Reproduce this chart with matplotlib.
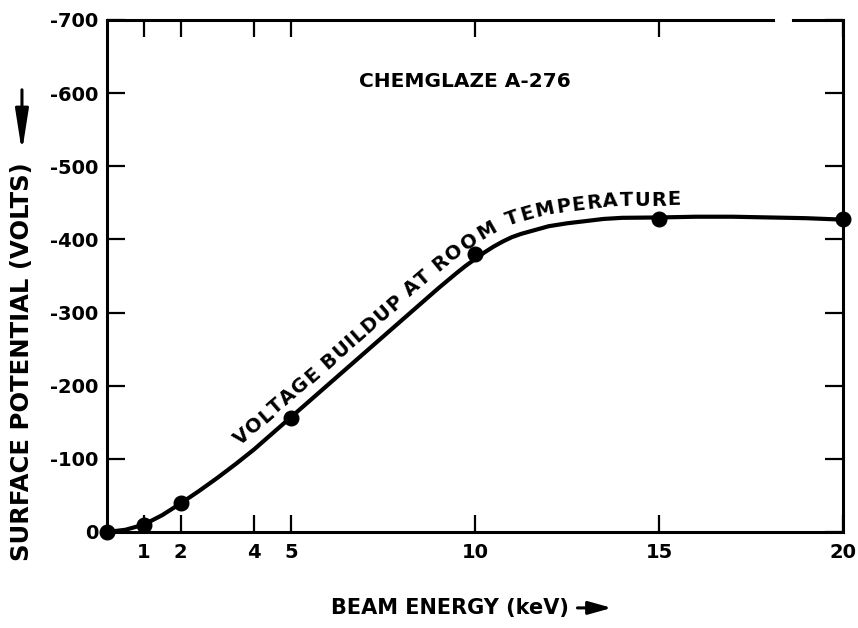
import numpy as np
import matplotlib
matplotlib.use('Agg')
import matplotlib.pyplot as plt
from matplotlib.patches import FancyArrowPatch

FONT = 'DejaVu Sans'

# measured points
energy = [0, 1, 2, 5, 10, 15, 20]
potential = [0, -10, -40, -156, -380, -428, -428]

# hand drawn curve
curve_energy = [0, 0.5, 1, 1.5, 2, 2.5, 3, 3.5, 4, 4.5, 5, 5.5, 6, 6.5, 7,
                7.5, 8, 8.5, 9, 9.5, 9.75, 10, 10.25, 10.5, 10.75, 11, 11.25,
                11.5, 12, 12.5, 13, 13.5, 14, 15, 16, 17, 18, 19, 20]
curve_potential = [0, -3, -10, -23, -39, -56, -74, -93, -113, -135, -157,
                   -179, -201, -223, -245, -267, -289, -311, -333, -354,
                   -364, -373, -382, -390, -397, -403, -407.5, -411, -418,
                   -422, -425, -428, -429.5, -430, -431, -431, -430, -429,
                   -427]

x_tick_pos = [1, 2, 4, 5, 10, 15, 20]
x_tick_labels = ['1', '2', '4', '5', '10', '15', '20']
y_tick_pos = [0, -100, -200, -300, -400, -500, -600, -700]
y_tick_labels = ['0', '-100', '-200', '-300', '-400', '-500', '-600', '-700']

title = 'CHEMGLAZE A-276'
curve_text = 'VOLTAGE BUILDUP AT ROOM TEMPERATURE'


def curved_label(ax, text, xs, ys, x_from, x_to, offset, size):
	renderer = ax.figure.canvas.get_renderer()
	pts = ax.transData.transform(np.column_stack([xs, ys]))
	arc = np.concatenate([[0], np.cumsum(np.hypot(*np.diff(pts, axis=0).T))])
	s_from = np.interp(x_from, xs, arc)
	s_to = np.interp(x_to, xs, arc)

	def width(s):
		t = ax.text(0, 0, s, fontsize=size, fontweight='bold', family=FONT)
		w = t.get_window_extent(renderer).width
		t.remove()
		return w

	base = width('xx')
	widths = [width('x' + ch + 'x') - base for ch in text]
	k = (s_to - s_from) / sum(widths)
	inv = ax.transData.inverted()
	s = s_from
	for ch, w in zip(text, widths):
		mid = s + w * k / 2
		s += w * k
		if ch == ' ':
			continue
		px = np.interp(mid, arc, pts[:, 0])
		py = np.interp(mid, arc, pts[:, 1])
		x0 = np.interp(mid - 14, arc, pts[:, 0])
		y0 = np.interp(mid - 14, arc, pts[:, 1])
		x1 = np.interp(mid + 14, arc, pts[:, 0])
		y1 = np.interp(mid + 14, arc, pts[:, 1])
		ang = np.arctan2(y1 - y0, x1 - x0)
		nx, ny = -np.sin(ang), np.cos(ang)
		x, y = inv.transform((px + nx * offset, py + ny * offset))
		ax.text(x, y, ch, rotation=np.degrees(ang), rotation_mode='anchor',
		        ha='center', va='baseline', fontsize=size, fontweight='bold',
		        family=FONT)


fig = plt.figure(figsize=(8.58, 6.28), dpi=100)
ax = fig.add_axes([0.1247, 0.1529, 0.8578, 0.8153])

ax.plot(curve_energy, curve_potential, color='k', lw=3, clip_on=False,
        solid_capstyle='round', solid_joinstyle='round')
ax.plot(energy, potential, 'o', color='k', ms=10.5, clip_on=False)

ax.set_xlim(0, 20)
ax.set_ylim(0, -700)

ax.set_xticks(x_tick_pos)
ax.set_xticklabels(x_tick_labels)
ax.set_yticks(y_tick_pos)
ax.set_yticklabels(y_tick_labels)
ax.tick_params(axis='x', direction='in', length=12, width=1.6, top=True,
               pad=8, labelsize=14)
ax.tick_params(axis='y', direction='in', length=13, width=1.6, right=True,
               pad=6, labelsize=14)
for lab in ax.get_xticklabels() + ax.get_yticklabels():
	lab.set_fontweight('bold')
	lab.set_family(FONT)

for side in ['left', 'right', 'bottom']:
	ax.spines[side].set_linewidth(2.2)
ax.spines['top'].set_visible(False)
# top border has a small break near the right end
ax.plot([0, 0.905], [1, 1], transform=ax.transAxes, color='k', lw=2.2,
        clip_on=False)
ax.plot([0.932, 1], [1, 1], transform=ax.transAxes, color='k', lw=2.2,
        clip_on=False)

ax.text(9.73, -616, title, ha='center', va='center', fontsize=14.5,
        fontweight='bold', family=FONT)

curved_label(ax, curve_text, curve_energy, curve_potential, 3.8, 15.6, 12, 14)

fig.text(0.0256, 0.424, 'SURFACE POTENTIAL (VOLTS)', rotation=90,
         ha='center', va='center', fontsize=17.5, fontweight='bold',
         family=FONT)
fig.text(0.524, 0.032, 'BEAM ENERGY (keV)', ha='center', va='center',
         fontsize=15, fontweight='bold', family=FONT)

fig.add_artist(FancyArrowPatch(
	(0.0256, 0.857), (0.0256, 0.758), transform=fig.transFigure,
	arrowstyle='-|>,head_length=1.4,head_width=0.22', mutation_scale=18,
	lw=2.2, color='k', shrinkA=0, shrinkB=0))
fig.add_artist(FancyArrowPatch(
	(0.673, 0.032), (0.713, 0.032), transform=fig.transFigure,
	arrowstyle='-|>,head_length=1.0,head_width=0.28', mutation_scale=14,
	lw=2.2, color='k', shrinkA=0, shrinkB=0))

plt.savefig('out.png', dpi=100)
plt.close()
